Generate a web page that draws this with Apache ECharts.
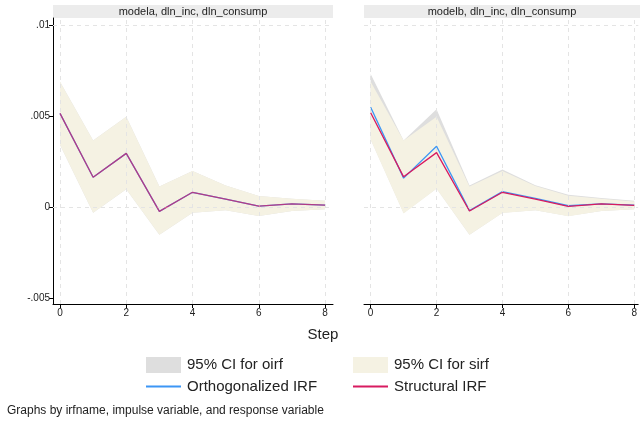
<!DOCTYPE html>
<html>
<head>
<meta charset="utf-8">
<script src="https://cdn.jsdelivr.net/npm/echarts@6/dist/echarts.min.js"></script>
<style>html,body{margin:0;padding:0;background:#fff}#c{width:640px;height:425px}</style>
</head>
<body>
<div id="c"></div>
<script>
// ---- data ----
const steps = [0, 1, 2, 3, 4, 5, 6, 7, 8];
const panelTitles = ['modela, dln_inc, dln_consump', 'modelb, dln_inc, dln_consump'];
const xTicks = [0, 2, 4, 6, 8];
const yTicks = [-0.005, 0, 0.005, 0.01];
const yTickLabels = ['-.005', '0', '.005', '.01'];

// modela
const aOirf      = [0.00515, 0.00164, 0.00295, -0.00024, 0.00081, 0.00044, 0.00005, 0.00017, 0.00010];
const aOirfUpper = [0.00688, 0.00365, 0.00496, 0.00113, 0.00198, 0.00118, 0.00061, 0.00046, 0.00034];
const aOirfLower = [0.00343, -0.00031, 0.00098, -0.00153, -0.00032, -0.00018, -0.00049, -0.00022, -0.00012];
const aSirf      = [0.00515, 0.00164, 0.00295, -0.00024, 0.00081, 0.00044, 0.00005, 0.00017, 0.00010];
const aSirfUpper = [0.00688, 0.00365, 0.00496, 0.00113, 0.00198, 0.00118, 0.00061, 0.00046, 0.00034];
const aSirfLower = [0.00343, -0.00031, 0.00098, -0.00153, -0.00032, -0.00018, -0.00049, -0.00022, -0.00012];

// modelb
const bOirf      = [0.00548, 0.00159, 0.00334, -0.00020, 0.00085, 0.00047, 0.00007, 0.00017, 0.00011];
const bOirfUpper = [0.00731, 0.00365, 0.00537, 0.00118, 0.00206, 0.00120, 0.00068, 0.00050, 0.00035];
const bOirfLower = [0.00372, -0.00033, 0.00102, -0.00153, -0.00032, -0.00018, -0.00049, -0.00022, -0.00012];
const bSirf      = [0.00518, 0.00166, 0.00299, -0.00022, 0.00081, 0.00044, 0.00004, 0.00017, 0.00009];
const bSirfUpper = [0.00688, 0.00365, 0.00496, 0.00113, 0.00198, 0.00116, 0.00062, 0.00046, 0.00031];
const bSirfLower = [0.00370, -0.00035, 0.00100, -0.00153, -0.00033, -0.00018, -0.00050, -0.00022, -0.00012];

// ---- styling ----
const FONT = '"Liberation Sans", Arial, Helvetica, sans-serif';
const C_OCI = '#dedede', C_SCI = '#f5f2e3', C_O = '#3c96f5', C_S = '#d81b60';
const GRID_C = '#e4e4e4';

const pair = (xs, ys) => xs.map((x, i) => [x, ys[i]]);

const panels = [
  {irfO: aOirf, oU: aOirfUpper, oL: aOirfLower, irfS: aSirf, sU: aSirfUpper, sL: aSirfLower},
  {irfO: bOirf, oU: bOirfUpper, oL: bOirfLower, irfS: bSirf, sU: bSirfUpper, sL: bSirfLower}
];

const grids = [
  {left: 53, top: 18, width: 280, height: 286},
  {left: 364, top: 18, width: 276, height: 286}
];
const xRanges = [[-0.211, 8.24], [-0.202, 8.12]];
const yRange = [-0.00533, 0.01039];

const xAxes = grids.map((g, i) => ({
  type: 'value', gridIndex: i, min: xRanges[i][0], max: xRanges[i][1],
  axisLine: {show: true, onZero: false, lineStyle: {color: '#000', width: 1}},
  axisTick: {show: true, length: 4, customValues: xTicks, lineStyle: {color: '#000'}},
  axisLabel: {show: true, customValues: xTicks, margin: 4, color: '#222', fontSize: 10, fontFamily: FONT},
  splitLine: {show: false}
}));
const yAxes = grids.map((g, i) => ({
  type: 'value', gridIndex: i, min: yRange[0], max: yRange[1],
  axisLine: {show: i === 0, onZero: false, lineStyle: {color: '#000', width: 1}},
  axisTick: {show: i === 0, length: 4, customValues: yTicks, lineStyle: {color: '#000'}},
  axisLabel: {show: i === 0, customValues: yTicks, margin: 3, color: '#222', fontSize: 10, fontFamily: FONT,
    formatter: v => { const k = yTicks.findIndex(t => Math.abs(t - v) < 1e-9); return k >= 0 ? yTickLabels[k] : ''; }},
  splitLine: {show: false}
}));

// band: custom series, one polygon (upper edge then lower edge reversed) through the axes
function bandSeries(name, i, upper, lower, color, z) {
  return {
    type: 'custom', name: name, xAxisIndex: i, yAxisIndex: i, z: z, silent: true, color: color,
    data: steps.map((x, k) => [x, lower[k], upper[k]]),
    encode: {x: 0, y: [1, 2]},
    renderItem: (params, api) => {
      if (params.dataIndex !== 0) return null;
      const pts = [];
      steps.forEach((x, k) => pts.push(api.coord([x, upper[k]])));
      for (let k = steps.length - 1; k >= 0; k--) pts.push(api.coord([steps[k], lower[k]]));
      return {type: 'polygon', shape: {points: pts}, style: {fill: color, stroke: null}};
    }
  };
}

const series = [];
panels.forEach((p, i) => {
  series.push({
    type: 'line', xAxisIndex: i, yAxisIndex: i, data: [], z: 1, silent: true,
    markLine: {
      silent: true, symbol: ['none', 'none'], label: {show: false}, animation: false,
      lineStyle: {color: GRID_C, type: [4, 4], width: 1},
      data: xTicks.map(v => ({xAxis: v})).concat(yTicks.map(v => ({yAxis: v})))
    }
  });
  series.push(bandSeries('95% CI for oirf', i, p.oU, p.oL, C_OCI, 2));
  series.push(bandSeries('95% CI for sirf', i, p.sU, p.sL, C_SCI, 3));
  series.push({type: 'line', name: 'Orthogonalized IRF', xAxisIndex: i, yAxisIndex: i,
    data: pair(steps, p.irfO), symbol: 'none', color: C_O, lineStyle: {color: C_O, width: 1.3}, z: 4});
  series.push({type: 'line', name: 'Structural IRF', xAxisIndex: i, yAxisIndex: i,
    data: pair(steps, p.irfS), symbol: 'none', color: C_S, lineStyle: {color: C_S, width: 1.3, opacity: i === 0 ? 0.75 : 1}, z: 5});
});

const legendBase = {
  orient: 'horizontal', itemWidth: 35, itemHeight: 16, itemGap: 10, selectedMode: false,
  textStyle: {color: '#222', fontSize: 15, fontFamily: FONT, padding: [0, 0, 0, 1]}, padding: 0
};
const legends = [
  Object.assign({}, legendBase, {left: 146, top: 357, data: [{name: '95% CI for oirf', icon: 'rect', itemStyle: {color: C_OCI, borderWidth: 0}}]}),
  Object.assign({}, legendBase, {left: 353, top: 357, data: [{name: '95% CI for sirf', icon: 'rect', itemStyle: {color: C_SCI, borderWidth: 0}}]}),
  Object.assign({}, legendBase, {left: 146, top: 379, itemHeight: 2, data: [{name: 'Orthogonalized IRF', icon: 'rect', itemStyle: {color: C_O}}]}),
  Object.assign({}, legendBase, {left: 353, top: 379, itemHeight: 2, data: [{name: 'Structural IRF', icon: 'rect', itemStyle: {color: C_S}}]})
];

const graphic = [];
grids.forEach((g, i) => {
  graphic.push({type: 'rect', left: g.left, top: 5, shape: {width: g.width, height: 13}, style: {fill: '#ececec'}, silent: true});
  graphic.push({type: 'text', x: g.left + g.width / 2, y: 11.5, silent: true,
    style: {text: panelTitles[i], fill: '#222', font: '11px ' + FONT, textAlign: 'center', textVerticalAlign: 'middle'}});
});
graphic.push({type: 'text', x: 323, y: 335, silent: true,
  style: {text: 'Step', fill: '#222', font: '15px ' + FONT, textAlign: 'center', textVerticalAlign: 'middle'}});
graphic.push({type: 'text', x: 7, y: 411, silent: true,
  style: {text: 'Graphs by irfname, impulse variable, and response variable', fill: '#222', font: '12px ' + FONT, textAlign: 'left', textVerticalAlign: 'middle'}});

const chart = echarts.init(document.getElementById('c'), null, {renderer: 'canvas'});
chart.setOption({
  animation: false,
  backgroundColor: '#fff',
  grid: grids,
  xAxis: xAxes,
  yAxis: yAxes,
  legend: legends,
  series: series,
  graphic: graphic
});
</script>
</body>
</html>
